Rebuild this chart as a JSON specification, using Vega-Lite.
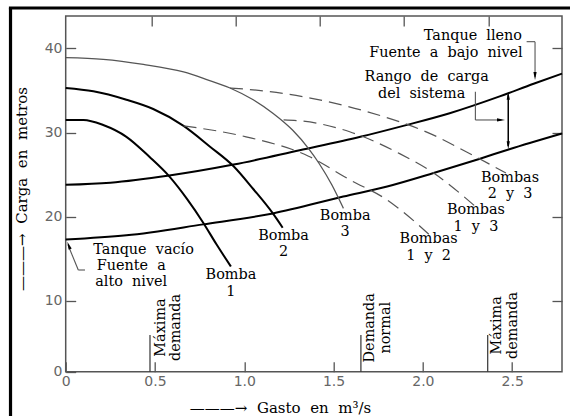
{
  "$schema": "https://vega.github.io/schema/vega-lite/v6.json",
  "width": 496.3,
  "height": 355.7,
  "autosize": "none",
  "padding": {"left": 65.7, "top": 16, "right": 8, "bottom": 44.3},
  "background": "white",
  "config": {
    "view": {"stroke": "#555", "strokeWidth": 1.5},
    "axis": {"grid": false, "domain": false, "labelFont": "DejaVu Sans", "labelFontSize": 14, "labelColor": "#666", "tickColor": "#555", "tickWidth": 1.3, "tickSize": -10, "titleFont": "DejaVu Serif", "titleFontSize": 15, "titleFontWeight": "normal", "titleColor": "black"},
    "text": {"font": "DejaVu Serif", "fontSize": 14.4, "color": "black"}
  },
  "datasets": {
    "curves": [
      {"s": "Bomba 1", "x": 0, "y": 31.5}, {"s": "Bomba 1", "x": 0.1, "y": 31.5}, {"s": "Bomba 1", "x": 0.21, "y": 30.9}, {"s": "Bomba 1", "x": 0.34, "y": 29.5}, {"s": "Bomba 1", "x": 0.47, "y": 27.1}, {"s": "Bomba 1", "x": 0.58, "y": 24.8}, {"s": "Bomba 1", "x": 0.68, "y": 22.1}, {"s": "Bomba 1", "x": 0.77, "y": 19.3}, {"s": "Bomba 1", "x": 0.845, "y": 16.7}, {"s": "Bomba 1", "x": 0.925, "y": 14.1},
      {"s": "Bomba 2", "x": 0, "y": 35.3}, {"s": "Bomba 2", "x": 0.155, "y": 34.9}, {"s": "Bomba 2", "x": 0.34, "y": 33.9}, {"s": "Bomba 2", "x": 0.49, "y": 32.8}, {"s": "Bomba 2", "x": 0.66, "y": 30.8}, {"s": "Bomba 2", "x": 0.81, "y": 28.3}, {"s": "Bomba 2", "x": 0.94, "y": 26.0}, {"s": "Bomba 2", "x": 1.05, "y": 23.3}, {"s": "Bomba 2", "x": 1.16, "y": 20.4}, {"s": "Bomba 2", "x": 1.215, "y": 18.7},
      {"s": "Tanque vacío", "x": 0, "y": 17.3}, {"s": "Tanque vacío", "x": 0.34, "y": 17.8}, {"s": "Tanque vacío", "x": 0.77, "y": 19.1}, {"s": "Tanque vacío", "x": 1.16, "y": 20.4}, {"s": "Tanque vacío", "x": 1.554, "y": 22.4}, {"s": "Tanque vacío", "x": 1.8, "y": 23.6}, {"s": "Tanque vacío", "x": 2.06, "y": 25.2}, {"s": "Tanque vacío", "x": 2.32, "y": 26.9}, {"s": "Tanque vacío", "x": 2.48, "y": 28.0}, {"s": "Tanque vacío", "x": 2.779, "y": 29.9},
      {"s": "Tanque lleno", "x": 0, "y": 23.8}, {"s": "Tanque lleno", "x": 0.25, "y": 24.05}, {"s": "Tanque lleno", "x": 0.58, "y": 24.9}, {"s": "Tanque lleno", "x": 0.94, "y": 26.2}, {"s": "Tanque lleno", "x": 1.31, "y": 27.9}, {"s": "Tanque lleno", "x": 1.65, "y": 29.5}, {"s": "Tanque lleno", "x": 1.89, "y": 30.8}, {"s": "Tanque lleno", "x": 2.15, "y": 32.3}, {"s": "Tanque lleno", "x": 2.43, "y": 34.3}, {"s": "Tanque lleno", "x": 2.62, "y": 35.8}, {"s": "Tanque lleno", "x": 2.779, "y": 37.0}
    ],
    "thin": [
      {"s": "Bomba 3", "x": 0, "y": 38.9}, {"s": "Bomba 3", "x": 0.21, "y": 38.7}, {"s": "Bomba 3", "x": 0.435, "y": 38.1}, {"s": "Bomba 3", "x": 0.66, "y": 37.2}, {"s": "Bomba 3", "x": 0.79, "y": 36.3}, {"s": "Bomba 3", "x": 0.92, "y": 35.3}, {"s": "Bomba 3", "x": 1.05, "y": 33.9}, {"s": "Bomba 3", "x": 1.16, "y": 32.3}, {"s": "Bomba 3", "x": 1.27, "y": 30.3}, {"s": "Bomba 3", "x": 1.36, "y": 28.1}, {"s": "Bomba 3", "x": 1.42, "y": 26.3}, {"s": "Bomba 3", "x": 1.49, "y": 23.8}, {"s": "Bomba 3", "x": 1.555, "y": 21.0}
    ],
    "dashed": [
      {"s": "Bombas 1 y 2", "x": 0.66, "y": 30.8}, {"s": "Bombas 1 y 2", "x": 1.01, "y": 29.5}, {"s": "Bombas 1 y 2", "x": 1.36, "y": 27.2}, {"s": "Bombas 1 y 2", "x": 1.59, "y": 24.4}, {"s": "Bombas 1 y 2", "x": 1.8, "y": 22.0}, {"s": "Bombas 1 y 2", "x": 1.87, "y": 20.9}, {"s": "Bombas 1 y 2", "x": 2.04, "y": 17.8},
      {"s": "Bombas 1 y 3", "x": 1.22, "y": 31.5}, {"s": "Bombas 1 y 3", "x": 1.31, "y": 31.4}, {"s": "Bombas 1 y 3", "x": 1.59, "y": 30.1}, {"s": "Bombas 1 y 3", "x": 1.87, "y": 27.5}, {"s": "Bombas 1 y 3", "x": 2.06, "y": 25.2}, {"s": "Bombas 1 y 3", "x": 2.29, "y": 21.3},
      {"s": "Bombas 2 y 3", "x": 0.92, "y": 35.3}, {"s": "Bombas 2 y 3", "x": 1.13, "y": 34.9}, {"s": "Bombas 2 y 3", "x": 1.37, "y": 34.1}, {"s": "Bombas 2 y 3", "x": 1.685, "y": 32.5}, {"s": "Bombas 2 y 3", "x": 2.06, "y": 29.7}, {"s": "Bombas 2 y 3", "x": 2.245, "y": 27.7}, {"s": "Bombas 2 y 3", "x": 2.465, "y": 25.2}
    ],
    "labels": [
      {"x": 0.925, "y": 13.05, "t": "Bomba\n1"},
      {"x": 1.22, "y": 17.75, "t": "Bomba\n2"},
      {"x": 1.565, "y": 20.15, "t": "Bomba\n3"},
      {"x": 2.032, "y": 17.35, "t": "Bombas\n1\u00a0 y\u00a0 2"},
      {"x": 2.297, "y": 20.75, "t": "Bombas\n1\u00a0 y\u00a0 3"},
      {"x": 2.488, "y": 24.65, "t": "Bombas\n2\u00a0 y\u00a0 3"},
      {"x": 2.021, "y": 36.62, "t": "Rango\u00a0 de\u00a0 carga"}, {"x": 1.993, "y": 34.62, "t": "del\u00a0 sistema"},
      {"x": 0.436, "y": 16.1, "t": "Tanque\u00a0 vacío"},
      {"x": 0.367, "y": 14.2, "t": "Fuente\u00a0 a\nalto\u00a0 nivel"}
    ],
    "rlabels": [
      {"x": 2.555, "y": 41.42, "t": "Tanque\u00a0 lleno"}, {"x": 2.559, "y": 39.4, "t": "Fuente\u00a0 a\u00a0 bajo\u00a0 nivel"}
    ],
    "vlabels": [
      {"x": 0.531, "y": 6.85, "t": "Máxima\ndemanda"},
      {"x": 1.706, "y": 6.82, "t": "Demanda\nnormal"},
      {"x": 2.416, "y": 7.1, "t": "Máxima\ndemanda"}
    ],
    "demand": [
      {"x": 0.472, "y": 1.6, "x2": 0.472, "y2": 5.96},
      {"x": 1.653, "y": 1.6, "x2": 1.653, "y2": 5.96},
      {"x": 2.363, "y": 1.6, "x2": 2.363, "y2": 5.96}
    ],
    "leaders": [
      {"x": 2.581, "y": 40.8, "x2": 2.628, "y2": 40.8},
      {"x": 2.628, "y": 40.8, "x2": 2.628, "y2": 36.6},
      {"x": 2.294, "y": 34.86, "x2": 2.294, "y2": 31.5},
      {"x": 2.294, "y": 31.5, "x2": 2.44, "y2": 31.5},
      {"x": 0.012, "y": 16.7, "x2": 0.0705, "y2": 13.68},
      {"x": 0.0705, "y": 13.68, "x2": 0.108, "y2": 13.68}
    ],
    "range": [
      {"x": 2.478, "y": 34.5, "x2": 2.478, "y2": 28.4}
    ],
    "heads": [
      {"x": 2.628, "y": 36.72, "d": "down"},
      {"x": 2.478, "y": 34.38, "d": "up"},
      {"x": 2.478, "y": 28.49, "d": "down"},
      {"x": 2.4373, "y": 31.5, "d": "right"},
      {"x": 0.0171, "y": 16.6, "d": "upleft"}
    ]
  },
  "layer": [
    {
      "data": {"name": "curves"},
      "mark": {"type": "line", "interpolate": "monotone", "color": "black", "strokeWidth": 2},
      "encoding": {
        "x": {"field": "x", "type": "quantitative", "scale": {"domain": [0, 2.779], "nice": false, "zero": false},
          "axis": {"orient": "bottom", "values": [0, 0.5, 1, 1.5, 2, 2.5], "labelExpr": "datum.value == 0 ? '0' : format(datum.value, '.1f')", "labelPadding": 13, "labelFlush": false, "title": "———→\u00a0 Gasto\u00a0 en\u00a0 m³/s", "titleX": 214.3, "titleY": 36, "titleAlign": "center", "titleBaseline": "middle"}},
        "y": {"field": "y", "type": "quantitative", "scale": {"domain": [1.6, 43.85], "nice": false, "zero": false},
          "axis": {"orient": "left", "values": [1.6, 10, 20, 30, 40], "labelExpr": "datum.value < 5 ? '0\u00a0\u00a0' : datum.label", "labelPadding": 13.7, "labelFlush": false, "title": "———→\u00a0 Carga\u00a0 en\u00a0 metros", "titleX": -43.7, "titleY": 172.5, "titleAlign": "center", "titleBaseline": "middle", "titleAngle": 270}},
        "detail": {"field": "s"}
      }
    },
    {
      "data": {"name": "thin"},
      "mark": {"type": "line", "interpolate": "monotone", "color": "#555", "strokeWidth": 1.3},
      "encoding": {
        "x": {"field": "x", "type": "quantitative", "scale": {"domain": [0, 2.779], "nice": false, "zero": false},
          "axis": {"orient": "top", "values": [0.479, 0.95, 1.42, 1.89, 2.37], "labels": false, "title": null}},
        "y": {"field": "y", "type": "quantitative", "scale": {"domain": [1.6, 43.85], "nice": false, "zero": false},
          "axis": {"orient": "right", "values": [10, 20, 30, 40], "labels": false, "title": null}},
        "detail": {"field": "s"}
      }
    },
    {
      "data": {"name": "dashed"},
      "mark": {"type": "line", "interpolate": "monotone", "color": "#555", "strokeWidth": 1.2, "strokeDash": [13, 7]},
      "encoding": {
        "x": {"field": "x", "type": "quantitative", "scale": {"domain": [0, 2.779], "nice": false, "zero": false}, "axis": null},
        "y": {"field": "y", "type": "quantitative", "scale": {"domain": [1.6, 43.85], "nice": false, "zero": false}, "axis": null},
        "detail": {"field": "s"}
      }
    },
    {
      "data": {"name": "demand"},
      "mark": {"type": "rule", "color": "#333", "strokeWidth": 1.2},
      "encoding": {
        "x": {"field": "x", "type": "quantitative", "scale": {"domain": [0, 2.779], "nice": false, "zero": false}, "axis": null},
        "y": {"field": "y", "type": "quantitative", "scale": {"domain": [1.6, 43.85], "nice": false, "zero": false}, "axis": null},
        "x2": {"field": "x2"},
        "y2": {"field": "y2"}
      }
    },
    {
      "data": {"name": "leaders"},
      "mark": {"type": "rule", "color": "#555", "strokeWidth": 1.1},
      "encoding": {
        "x": {"field": "x", "type": "quantitative", "scale": {"domain": [0, 2.779], "nice": false, "zero": false}, "axis": null},
        "y": {"field": "y", "type": "quantitative", "scale": {"domain": [1.6, 43.85], "nice": false, "zero": false}, "axis": null},
        "x2": {"field": "x2"},
        "y2": {"field": "y2"}
      }
    },
    {
      "data": {"name": "range"},
      "mark": {"type": "rule", "color": "black", "strokeWidth": 1.5},
      "encoding": {
        "x": {"field": "x", "type": "quantitative", "scale": {"domain": [0, 2.779], "nice": false, "zero": false}, "axis": null},
        "y": {"field": "y", "type": "quantitative", "scale": {"domain": [1.6, 43.85], "nice": false, "zero": false}, "axis": null},
        "x2": {"field": "x2"},
        "y2": {"field": "y2"}
      }
    },
    {
      "data": {"name": "heads"},
      "mark": {"type": "point", "filled": true, "color": "black", "opacity": 1, "size": 64, "shape": "M-0.4,-1L0.4,-1L0,1Z"},
      "transform": [{"filter": "datum.d == 'down'"}],
      "encoding": {
        "x": {"field": "x", "type": "quantitative", "scale": {"domain": [0, 2.779], "nice": false, "zero": false}, "axis": null},
        "y": {"field": "y", "type": "quantitative", "scale": {"domain": [1.6, 43.85], "nice": false, "zero": false}, "axis": null}
      }
    },
    {
      "data": {"name": "heads"},
      "mark": {"type": "point", "filled": true, "color": "black", "opacity": 1, "size": 64, "shape": "M-0.4,1L0.4,1L0,-1Z"},
      "transform": [{"filter": "datum.d == 'up'"}],
      "encoding": {
        "x": {"field": "x", "type": "quantitative", "scale": {"domain": [0, 2.779], "nice": false, "zero": false}, "axis": null},
        "y": {"field": "y", "type": "quantitative", "scale": {"domain": [1.6, 43.85], "nice": false, "zero": false}, "axis": null}
      }
    },
    {
      "data": {"name": "heads"},
      "mark": {"type": "point", "filled": true, "color": "black", "opacity": 1, "size": 64, "shape": "M-1,-0.4L-1,0.4L1,0Z"},
      "transform": [{"filter": "datum.d == 'right'"}],
      "encoding": {
        "x": {"field": "x", "type": "quantitative", "scale": {"domain": [0, 2.779], "nice": false, "zero": false}, "axis": null},
        "y": {"field": "y", "type": "quantitative", "scale": {"domain": [1.6, 43.85], "nice": false, "zero": false}, "axis": null}
      }
    },
    {
      "data": {"name": "heads"},
      "mark": {"type": "point", "filled": true, "color": "black", "opacity": 1, "size": 64, "shape": "M-0.4,1L0.4,1L0,-1Z", "angle": -21},
      "transform": [{"filter": "datum.d == 'upleft'"}],
      "encoding": {
        "x": {"field": "x", "type": "quantitative", "scale": {"domain": [0, 2.779], "nice": false, "zero": false}, "axis": null},
        "y": {"field": "y", "type": "quantitative", "scale": {"domain": [1.6, 43.85], "nice": false, "zero": false}, "axis": null}
      }
    },
    {
      "data": {"name": "labels"},
      "mark": {"type": "text", "align": "center", "baseline": "middle", "lineBreak": "\n", "lineHeight": 16.5},
      "encoding": {
        "x": {"field": "x", "type": "quantitative", "scale": {"domain": [0, 2.779], "nice": false, "zero": false}, "axis": null},
        "y": {"field": "y", "type": "quantitative", "scale": {"domain": [1.6, 43.85], "nice": false, "zero": false}, "axis": null},
        "text": {"field": "t"}
      }
    },
    {
      "data": {"name": "rlabels"},
      "mark": {"type": "text", "align": "right", "baseline": "middle"},
      "encoding": {
        "x": {"field": "x", "type": "quantitative", "scale": {"domain": [0, 2.779], "nice": false, "zero": false}, "axis": null},
        "y": {"field": "y", "type": "quantitative", "scale": {"domain": [1.6, 43.85], "nice": false, "zero": false}, "axis": null},
        "text": {"field": "t"}
      }
    },
    {
      "data": {"name": "vlabels"},
      "mark": {"type": "text", "align": "center", "baseline": "middle", "angle": 270, "lineBreak": "\n", "lineHeight": 15.5},
      "encoding": {
        "x": {"field": "x", "type": "quantitative", "scale": {"domain": [0, 2.779], "nice": false, "zero": false}, "axis": null},
        "y": {"field": "y", "type": "quantitative", "scale": {"domain": [1.6, 43.85], "nice": false, "zero": false}, "axis": null},
        "text": {"field": "t"}
      }
    },
    {
      "data": {"values": [{}]},
      "mark": {"type": "rule", "color": "black", "strokeWidth": 3.2, "clip": false},
      "encoding": {
        "x": {"datum": -0.309, "type": "quantitative", "scale": {"domain": [0, 2.779], "nice": false, "zero": false}, "axis": null},
        "y": {"datum": 44.8, "type": "quantitative", "scale": {"domain": [1.6, 43.85], "nice": false, "zero": false}, "axis": null},
        "y2": {"datum": -8}
      }
    },
    {
      "data": {"values": [{}]},
      "mark": {"type": "rule", "color": "black", "strokeWidth": 3.2, "clip": false},
      "encoding": {
        "x": {"datum": -0.318, "type": "quantitative", "scale": {"domain": [0, 2.779], "nice": false, "zero": false}, "axis": null},
        "x2": {"datum": 3.2},
        "y": {"datum": 44.8, "type": "quantitative", "scale": {"domain": [1.6, 43.85], "nice": false, "zero": false}, "axis": null}
      }
    }
  ],
  "resolve": {"axis": {"x": "independent", "y": "independent"}}
}
